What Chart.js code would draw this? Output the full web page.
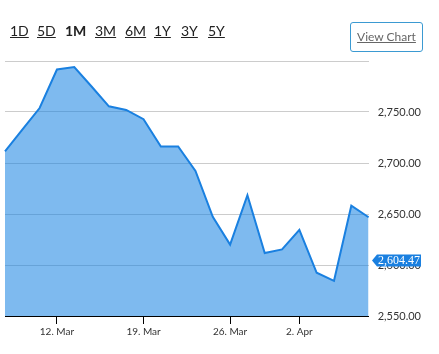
<!DOCTYPE html>
<html lang="en">
<head>
    <meta charset="UTF-8">
    <title>index chart 1M</title>
    <script src="https://cdn.jsdelivr.net/npm/chart.js"></script>
    <style>
        body {
            margin: 0;
            background: #fff;
            font-family: Lato, "Open Sans", sans-serif;
        }
        .chart-box {
            position: absolute;
            left: 0;
            top: 0;
            width: 439px;
            height: 354px;
        }
        .ranges {
            position: absolute;
            left: 10px;
            top: 22px;
            font-size: 14px;
            color: #222;
        }
        .ranges span {
            position: absolute;
            text-decoration: underline;
            white-space: nowrap;
        }
        .ranges span.active {
            font-weight: bold;
            text-decoration: none;
        }
        .view-btn {
            position: absolute;
            left: 350px;
            top: 22px;
            width: 71px;
            height: 28px;
            border: 1.5px solid #3b9ad2;
            border-radius: 3px;
            font-size: 12px;
            color: #666;
            text-decoration: underline;
            line-height: 28px;
            text-align: center;
        }
    </style>
</head>
<body>

<div class="chart-box">
    <canvas id="lineChart"></canvas>
</div>

<div class="ranges">
    <span style="left:0">1D</span>
    <span style="left:27px">5D</span>
    <span style="left:55px" class="active">1M</span>
    <span style="left:85px">3M</span>
    <span style="left:115px">6M</span>
    <span style="left:144px">1Y</span>
    <span style="left:171px">3Y</span>
    <span style="left:198px">5Y</span>
</div>
<div class="view-btn">View Chart</div>

<script>
    // trading days, 7 Mar - 8 Apr
    var dates = ['7. Mar', '8. Mar', '11. Mar', '12. Mar', '13. Mar', '14. Mar', '15. Mar', '18. Mar',
        '19. Mar', '20. Mar', '21. Mar', '22. Mar', '25. Mar', '26. Mar', '27. Mar', '28. Mar',
        '1. Apr', '2. Apr', '3. Apr', '4. Apr', '5. Apr', '8. Apr'];
    var closes = [2711.3, 2732.8, 2753.9, 2791.7, 2794.0, 2775.0, 2755.6, 2752.0,
        2743.0, 2716.2, 2716.2, 2692.2, 2647.2, 2620.0, 2668.5, 2611.8,
        2615.3, 2634.4, 2592.4, 2584.5, 2658.1, 2646.8];
    var shownTicks = ['12. Mar', '19. Mar', '26. Mar', '2. Apr'];
    var lastPrice = 2604.47;

    function fmt(v) {
        return v.toLocaleString('en-US', {minimumFractionDigits: 2, maximumFractionDigits: 2});
    }

    // little blue tag on the right axis
    var priceTag = {
        id: 'priceTag',
        afterDraw: function(chart) {
            var ctx = chart.ctx;
            var y = chart.scales.y.getPixelForValue(lastPrice);
            var x0 = 377, x1 = 421, h = 12;
            ctx.save();
            ctx.fillStyle = '#1a80e0';
            ctx.beginPath();
            ctx.moveTo(372, y);
            ctx.lineTo(x0, y - h / 2);
            ctx.lineTo(x1, y - h / 2);
            ctx.lineTo(x1, y + h / 2);
            ctx.lineTo(x0, y + h / 2);
            ctx.closePath();
            ctx.fill();
            ctx.fillStyle = '#fff';
            ctx.font = '12px "Liberation Serif", serif';
            ctx.textBaseline = 'middle';
            ctx.fillText(fmt(lastPrice), x0 + 1, y + 0.5);
            ctx.restore();
        }
    };

    var ctx = document.getElementById('lineChart').getContext('2d');
    var chart = new Chart(ctx, {
        type: 'line',
        data: {
            labels: dates,
            datasets: [{
                data: closes,
                borderColor: '#1a80e0',
                backgroundColor: 'rgba(20, 130, 226, 0.55)',
                borderWidth: 2,
                fill: 'start',
                tension: 0,
                pointRadius: 0
            }]
        },
        options: {
            responsive: true,
            maintainAspectRatio: false,
            animation: false,
            layout: {
                padding: {left: 5, top: 61, right: 9, bottom: 14}
            },
            plugins: {
                legend: {display: false},
                tooltip: {enabled: false}
            },
            scales: {
                x: {
                    offset: false,
                    border: {display: true, color: '#000', width: 1},
                    grid: {drawOnChartArea: false, drawTicks: true, tickLength: 8, color: '#000'},
                    ticks: {
                        autoSkip: false,
                        maxRotation: 0,
                        padding: 2,
                        color: '#333',
                        font: {family: 'Lato', size: 10},
                        callback: function(val) {
                            var lbl = this.getLabelForValue(val);
                            return shownTicks.indexOf(lbl) >= 0 ? lbl : null;
                        }
                    }
                },
                y: {
                    position: 'right',
                    min: 2550,
                    max: 2800,
                    border: {display: false},
                    grid: {color: '#cccccc', drawTicks: false},
                    ticks: {
                        stepSize: 50,
                        padding: 9,
                        color: '#333',
                        font: {family: 'Lato', size: 11},
                        callback: function(v) {
                            return v >= 2800 ? '' : fmt(v);
                        }
                    }
                }
            }
        },
        plugins: [priceTag]
    });
</script>
</body>
</html>
